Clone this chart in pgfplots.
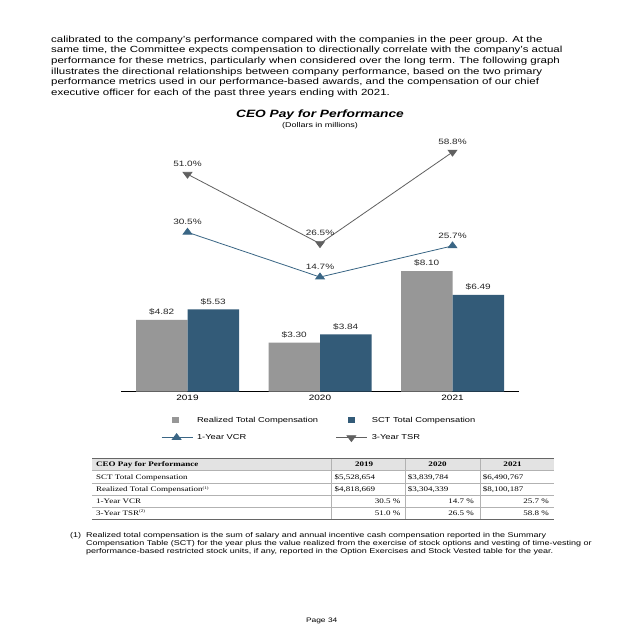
\documentclass[border=0pt]{standalone}
\usepackage{pgfplots}
\pgfplotsset{compat=1.18}
\usepackage{fontspec}
\setmainfont{Liberation Sans}[FakeStretch=1.294]
\newfontfamily\timesf{Liberation Serif}[FakeStretch=1.294]
\definecolor{barGray}{HTML}{979797}
\definecolor{barBlue}{HTML}{335B78}
\definecolor{vcrC}{HTML}{3A6685}
\definecolor{tsrC}{HTML}{606060}
\definecolor{hdrFill}{HTML}{E3E3E3}
\newcommand\para{\fontsize{8.89}{10.7}\selectfont}
\newcommand\lbl{\fontsize{7.73}{9}\selectfont}
\newcommand\leg{\fontsize{7.2}{8.6}\selectfont}
\newcommand\tbl{\timesf\fontsize{6.96}{8}\selectfont}
\newcommand\fnt{\fontsize{6.96}{8}\selectfont}
\newcommand\sups[1]{{\fontsize{4}{4}\selectfont\raisebox{2.5pt}{#1}}}
\begin{document}
\begin{tikzpicture}
\useasboundingbox (0pt,0pt) rectangle (640pt,640pt);
\fill[white] (0pt,0pt) rectangle (640pt,640pt);
% bars
\begin{axis}[at={(121.25pt,248.3pt)}, anchor=south west, scale only axis,
  width=397.5pt, height=255pt, xmin=-0.5, xmax=2.5, ymin=0, ymax=17.114,
  ybar=0pt, bar width=51.5pt, axis y line=none, axis x line=bottom,
  x axis line style={-, black, line width=0.8pt},
  xtick={0,1,2}, xticklabels={\mbox{2019},\mbox{2020},\mbox{2021}},
  major tick length=0pt, xtick style={draw=none},
  xticklabel style={font=\lbl, inner sep=0pt, yshift=-3.3pt},
  /pgf/number format/assume math mode=true,
  clip=false,
  nodes near coords={\$\pgfmathprintnumber[fixed,fixed zerofill,precision=2]{\pgfplotspointmeta}},
  every node near coord/.append style={font=\lbl, text=black!85, inner sep=0pt, anchor=south, yshift=4.4pt}]
\addplot[fill=barGray, draw=none] coordinates {(0,4.82) (1,3.30) (2,8.10)};
\addplot[fill=barBlue, draw=none] coordinates {(0,5.53) (1,3.84) (2,6.49)};
\end{axis}
% lines
\begin{axis}[at={(121.25pt,248.3pt)}, anchor=south west, scale only axis,
  width=397.5pt, height=255pt, xmin=-0.5, xmax=2.5, ymin=-25.77, ymax=64.24,
  hide axis, clip=false,
  /pgf/number format/assume math mode=true,
  legend columns=2, legend cell align=left,
  legend style={at={(0.1,-0.0976)}, anchor=north west, draw=none, fill=none,
    inner sep=0pt, column sep=0pt, row sep=10.2pt, font=\leg,
    nodes={inner sep=0pt}},
  legend image code/.code={\draw[mark repeat=2,mark phase=2,#1] plot coordinates {(0pt,0pt) (15pt,0pt) (31pt,0pt)};},
  nodes near coords={\pgfmathprintnumber[fixed,fixed zerofill,precision=1]{\pgfplotspointmeta}\%},
  every node near coord/.append style={font=\lbl, text=black!85, inner sep=0pt, anchor=south, yshift=7.25pt}]
\addlegendimage{legend image code/.code={\path[draw=none] (0pt,0pt) -- (31pt,0pt); \fill[barGray, draw=none] (10.5pt,-2.75pt) rectangle (17pt,2.75pt);}}
\addlegendentry{\makebox[143pt][l]{\hspace{4pt}Realized Total Compensation}}
\addlegendimage{legend image code/.code={\path[draw=none] (0pt,0pt) -- (31pt,0pt); \fill[barBlue, draw=none] (11.75pt,-2.75pt) rectangle (18.25pt,2.75pt);}}
\addlegendentry{\hspace{4pt}SCT Total Compensation}
\addplot[color=vcrC, line width=0.8pt, mark=triangle*, mark size=3.9pt, mark options={solid, xscale=1.294}] coordinates {(0,30.5) (1,14.7) (2,25.7)};
\addlegendentry{\makebox[143pt][l]{\hspace{4pt}1-Year VCR}}
\addplot[color=tsrC, line width=0.8pt, mark=triangle*, mark size=3.9pt, mark options={solid, rotate=180, xscale=1.294}] coordinates {(0,51.0) (1,26.5) (2,58.8)};
\addlegendentry{\hspace{4pt}3-Year TSR}
\end{axis}
\begin{scope}[x=1pt,y=1pt]
% paragraph
\begin{scope}[every node/.style={anchor=base west, inner sep=0pt, font=\para}]
\node at (51,597.7) {calibrated to the company’s performance compared with the companies in the peer group. At the};
\node at (51,587) {same time, the Committee expects compensation to directionally correlate with the company’s actual};
\node at (51,576.4) {performance for these metrics, particularly when considered over the long term. The following graph};
\node at (51,565.7) {illustrates the directional relationships between company performance, based on the two primary};
\node at (51,555) {performance metrics used in our performance-based awards, and the compensation of our chief};
\node at (51,544.4) {executive officer for each of the past three years ending with 2021.};
\end{scope}
% title
\node[anchor=base, inner sep=0pt, font=\bfseries\itshape\fontsize{10.6}{12}\selectfont] at (320,522.2) {CEO Pay for Performance};
\node[anchor=base, inner sep=0pt, font=\fontsize{6.95}{8}\selectfont] at (320,512.2) {(Dollars in millions)};
% table
\fill[hdrFill] (92,181.7) rectangle (554,169.3);
\begin{scope}[black!30, line width=0.5pt]
\draw (92,169.3) -- (554,169.3);
\draw (92,156.5) -- (554,156.5);
\draw (92,144.5) -- (554,144.5);
\draw (92,132.7) -- (554,132.7);
\draw (331.7,181.7) -- (331.7,120.7);
\draw (405,181.7) -- (405,120.7);
\draw (480,181.7) -- (480,120.7);
\end{scope}
\draw[black!60, line width=1.2pt] (92,181.7) -- (554,181.7);
\draw[black!60, line width=1.2pt] (92,120.7) -- (554,120.7);
\begin{scope}[every node/.style={inner sep=0pt, font=\tbl}]
\node[anchor=base west, font=\tbl\bfseries] at (96,173.2) {CEO Pay for Performance};
\node[anchor=base, font=\tbl\bfseries] at (364.2,173.2) {2019};
\node[anchor=base, font=\tbl\bfseries] at (437.5,173.2) {2020};
\node[anchor=base, font=\tbl\bfseries] at (512.5,173.2) {2021};
\node[anchor=base west] at (96,160.2) {SCT Total Compensation};
\node[anchor=base west] at (96,148.2) {Realized Total Compensation\sups{(1)}};
\node[anchor=base west] at (96,136.2) {1-Year VCR};
\node[anchor=base west] at (96,124.7) {3-Year TSR\sups{(2)}};
\node[anchor=base west] at (334.3,160.2) {\$5,528,654};
\node[anchor=base west] at (407.6,160.2) {\$3,839,784};
\node[anchor=base west] at (482.6,160.2) {\$6,490,767};
\node[anchor=base west] at (334.3,148.2) {\$4,818,669};
\node[anchor=base west] at (407.6,148.2) {\$3,304,339};
\node[anchor=base west] at (482.6,148.2) {\$8,100,187};
\node[anchor=base east] at (400.5,136.2) {30.5 \%};
\node[anchor=base east] at (474,136.2) {14.7 \%};
\node[anchor=base east] at (549,136.2) {25.7 \%};
\node[anchor=base east] at (400.5,124.7) {51.0 \%};
\node[anchor=base east] at (474,124.7) {26.5 \%};
\node[anchor=base east] at (549,124.7) {58.8 \%};
\end{scope}
% footnote
\begin{scope}[every node/.style={anchor=base west, inner sep=0pt, font=\fnt}]
\node at (70,102) {(1)};
\node at (86,102) {Realized total compensation is the sum of salary and annual incentive cash compensation reported in the Summary};
\node at (86,94) {Compensation Table (SCT) for the year plus the value realized from the exercise of stock options and vesting of time-vesting or};
\node at (86,86.3) {performance-based restricted stock units, if any, reported in the Option Exercises and Stock Vested table for the year.};
\end{scope}
\node[anchor=base, inner sep=0pt, font=\fontsize{6.5}{8}\selectfont] at (321.7,17.7) {Page 34};
\end{scope}
\end{tikzpicture}
\end{document}
